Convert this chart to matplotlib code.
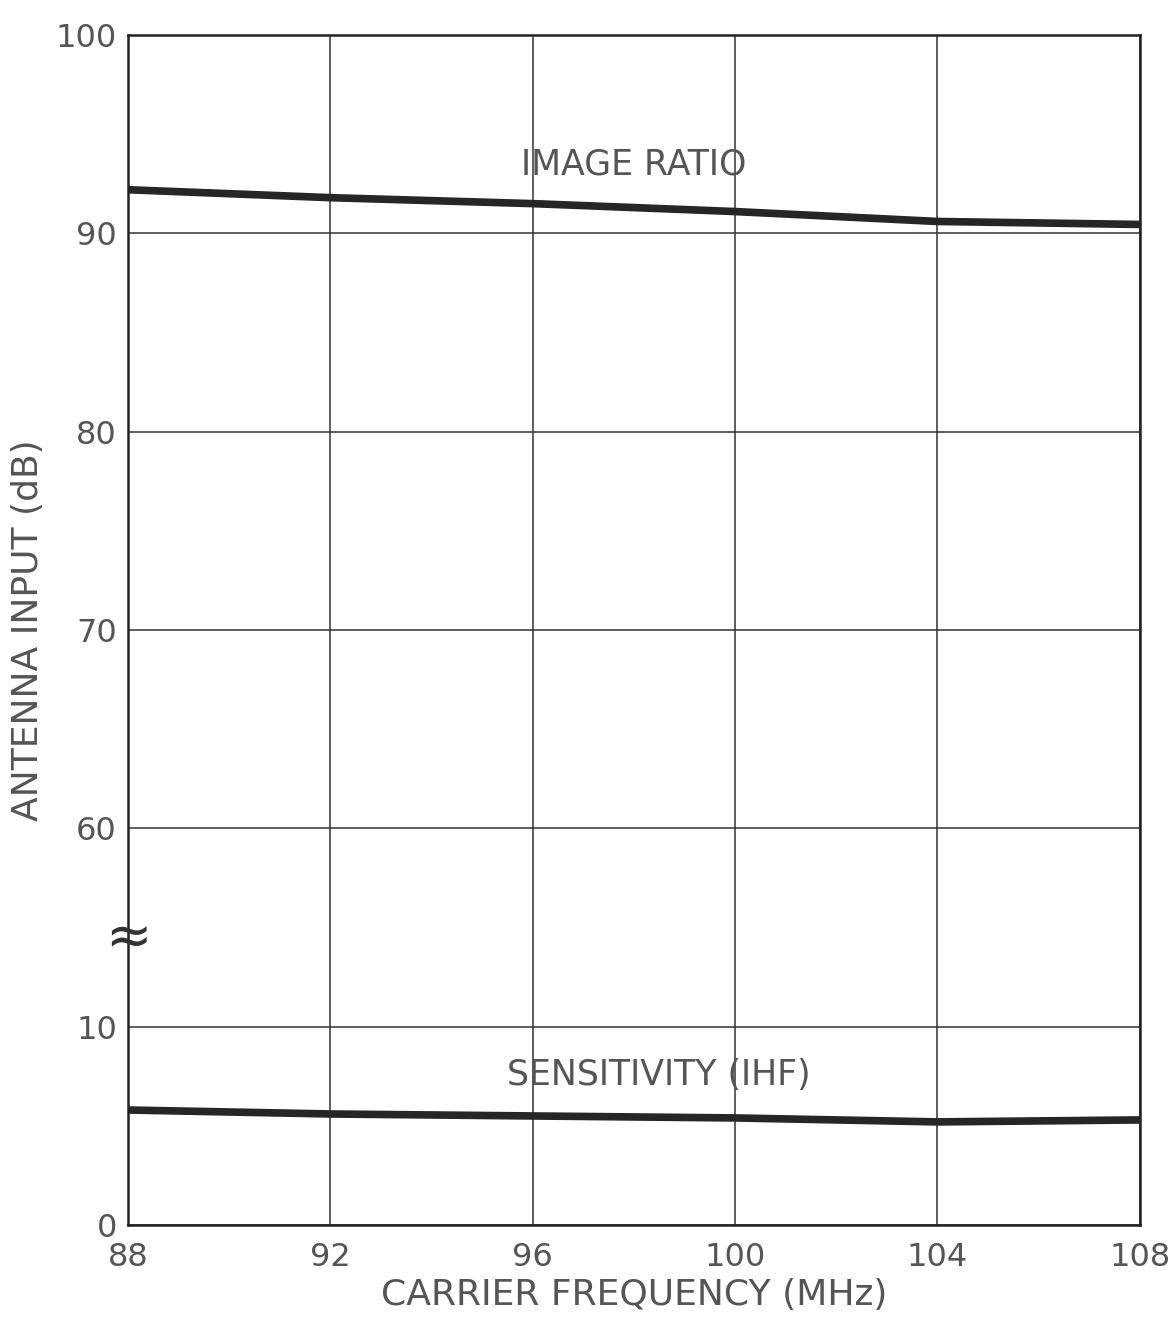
import numpy as np
import matplotlib.pyplot as plt

freq = [88, 92, 96, 100, 104, 108]
image_ratio = [92.2, 91.8, 91.5, 91.1, 90.6, 90.45]
sensitivity = [5.8, 5.6, 5.5, 5.4, 5.2, 5.3]

x_ticks = [88, 92, 96, 100, 104, 108]
y_ticks = [0, 10, 60, 70, 80, 90, 100]


def fwd(v):
    # broken axis: 10..60 squeezed into one grid step
    v = np.asarray(v, dtype=float)
    return np.where(v <= 10, v, np.where(v >= 60, v - 40, 10 + (v - 10) / 5))


def inv(u):
    u = np.asarray(u, dtype=float)
    return np.where(u <= 10, u, np.where(u >= 20, u + 40, 10 + (u - 10) * 5))


plt.rcParams['font.family'] = ['DejaVu Sans']
txt = '#555555'

fig = plt.figure(figsize=(11.75, 13.32), dpi=100)
ax = fig.add_axes([0.109, 0.0803, 0.861, 0.8934])
ax.set_yscale('function', functions=(fwd, inv))
ax.set_xlim(88, 108)
ax.set_ylim(0, 100)

ax.plot(freq, image_ratio, color='#262626', lw=5.5, solid_capstyle='butt')
ax.plot(freq, sensitivity, color='#262626', lw=5.5, solid_capstyle='butt')

ax.set_xticks(x_ticks)
ax.set_yticks(y_ticks)
ax.set_xticklabels([str(t) for t in x_ticks])
ax.set_yticklabels([str(t) for t in y_ticks])
ax.tick_params(length=0, labelsize=23, labelcolor=txt, pad=12)
ax.tick_params(axis='y', pad=8)
ax.grid(True, color='#333333', lw=1.1)
for s in ax.spines.values():
    s.set_color('#222222')
    s.set_linewidth(1.8)

ax.set_xlabel('CARRIER FREQUENCY (MHz)', fontsize=26, color=txt, labelpad=4)
ax.set_ylabel('ANTENNA INPUT (dB)', fontsize=26, color=txt, labelpad=8)

ax.text(98, 92.6, 'IMAGE RATIO', fontsize=25, color=txt, ha='center', va='bottom')
ax.text(98.5, 6.7, 'SENSITIVITY (IHF)', fontsize=25, color=txt, ha='center', va='bottom')
ax.text(88, 32, '≈', fontsize=40, color='#333333', ha='center', va='center',
        clip_on=False)

fig.savefig('out.png', dpi=100)
